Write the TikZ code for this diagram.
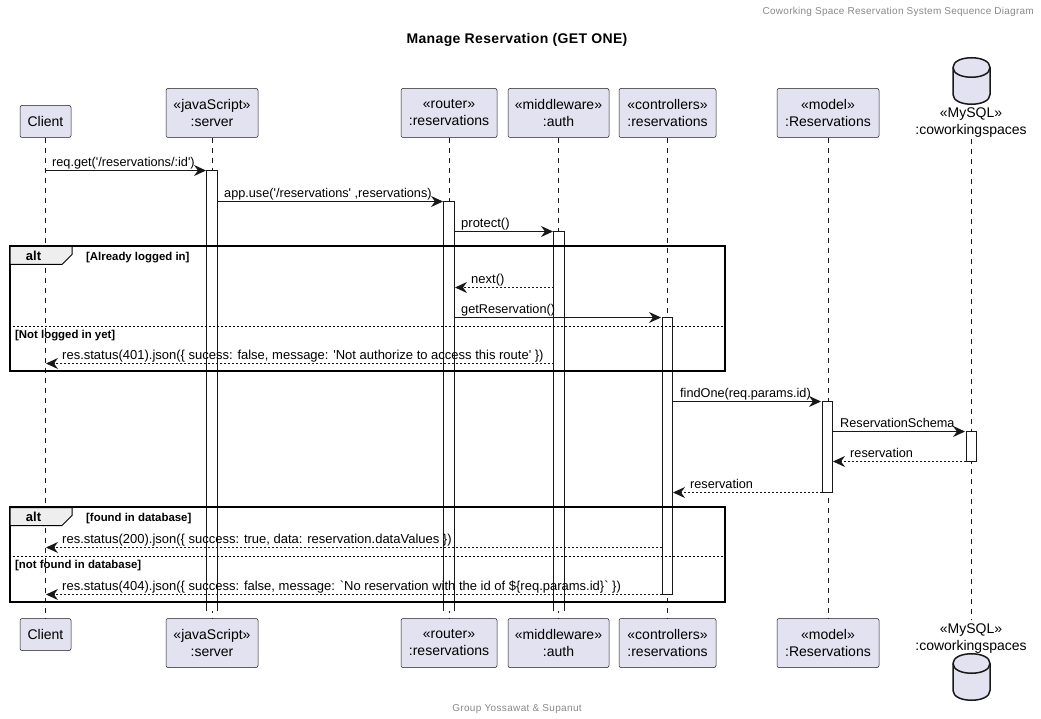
\documentclass[tikz,border=0pt]{standalone}
\usepackage{fontspec}
\setmainfont{Liberation Sans}
\newfontfamily\headerfont[LetterSpace=2.7]{Liberation Sans}
\newfontfamily\footerfont[LetterSpace=3.5]{Liberation Sans}
\newfontfamily\titlefont[LetterSpace=2.5]{Liberation Sans}
\newfontfamily\plainquotes{Liberation Sans}
\usetikzlibrary{arrows.meta}
\definecolor{partyfill}{HTML}{E2E2F0}
\definecolor{inkline}{HTML}{181818}
\definecolor{tabfill}{HTML}{EEEEEE}
\definecolor{notegray}{HTML}{888888}

\begin{document}
\begin{tikzpicture}[x=1pt, y=-1pt,
                    party/.style={draw=inkline, line width=0.5pt, fill=partyfill, rounded corners=2pt, align=center,
                                  inner sep=0, font=\fontsize{14}{17}\selectfont},
                    dblabel/.style={align=center, inner sep=0, font=\fontsize{14}{17}\selectfont},
                    life/.style={draw=inkline, line width=0.5pt, dash pattern=on 5pt off 5pt},
                    actbar/.style={fill=white, inner sep=0, minimum width=10},
                    barline/.style={draw=inkline, line width=1pt},
                    msg/.style={draw=inkline, line width=1pt, -{Stealth[length=12pt, width=11pt, inset=4pt]}},
                    reply/.style={msg, dash pattern=on 2pt off 2pt},
                    msgtext/.style={anchor=base west, inner sep=0, font=\fontsize{13}{15}\plainquotes},
                    msgshort/.style={anchor=base west, inner sep=0, font=\fontsize{12.7}{15}\plainquotes},
                    altframe/.style={draw=black, line width=2pt, inner sep=0, minimum width=715},
                    alttab/.style={draw=black, line width=1pt, fill=tabfill},
                    guard/.style={anchor=base west, inner sep=0, font=\fontsize{11.4}{13}\selectfont\bfseries},
                    divider/.style={draw=black, line width=0.8pt, dash pattern=on 2pt off 2pt},
                    cylinder part/.style={draw=inkline, line width=1.5pt, fill=partyfill}]
                \useasboundingbox (0,-0.5) rectangle (1041,718.5);

                \node (header) [anchor=base east, inner sep=0, text=notegray, font=\fontsize{10}{12}\headerfont] at (1034,14)
                    {Coworking Space Reservation System Sequence Diagram};
                \node (title) [anchor=base, inner sep=0, font=\fontsize{14}{17}\titlefont\bfseries] at (517,43) {Manage Reservation (GET ONE)};
                \node (footer) [anchor=base, inner sep=0, text=notegray, font=\fontsize{10}{12}\footerfont] at (517,711)
                    {Group Yossawat \& Supanut};

                \node (clienthead) [party, minimum width=51, minimum height=32] at (45.5,121) {Client};
                \node (serverhead) [party, minimum width=92, minimum height=49] at (212,112.5) {«javaScript»\\:server};
                \node (routerhead) [party, minimum width=96, minimum height=49] at (449,112.5) {«router»\\:reservations};
                \node (authhead) [party, minimum width=101, minimum height=49] at (558.5,112.5) {«middleware»\\:auth};
                \node (ctrlhead) [party, minimum width=97, minimum height=49] at (667.5,112.5) {«controllers»\\:reservations};
                \node (modelhead) [party, minimum width=102, minimum height=49] at (828,112.5) {«model»\\:Reservations};
                \node (dbhead) [dblabel, minimum height=32] at (971,122) {«MySQL»\\:coworkingspaces};

                \node (clientfoot) [party, minimum width=51, minimum height=32] at (45.5,634) {Client};
                \node (serverfoot) [party, minimum width=92, minimum height=49] at (212,642.5) {«javaScript»\\:server};
                \node (routerfoot) [party, minimum width=96, minimum height=49] at (449,642.5) {«router»\\:reservations};
                \node (authfoot) [party, minimum width=101, minimum height=49] at (558.5,642.5) {«middleware»\\:auth};
                \node (ctrlfoot) [party, minimum width=97, minimum height=49] at (667.5,642.5) {«controllers»\\:reservations};
                \node (modelfoot) [party, minimum width=102, minimum height=49] at (828,642.5) {«model»\\:Reservations};
                \node (dbfoot) [dblabel, minimum height=40] at (971,638.5) {«MySQL»\\:coworkingspaces};

                \draw [life] (clienthead) -- (clientfoot);
                \draw [life] (serverhead) -- (serverfoot);
                \draw [life] (routerhead) -- (routerfoot);
                \draw [life] (authhead) -- (authfoot);
                \draw [life] (ctrlhead) -- (ctrlfoot);
                \draw [life] (modelhead) -- (modelfoot);
                \draw [life] (dbhead) -- (dbfoot);

                \draw [cylinder part] (953,67) .. controls (953,54) and (990,54) .. (990,67) -- (990,94)
                    .. controls (990,107) and (953,107) .. (953,94) -- cycle;
                \draw [cylinder part, fill=none] (953,67) .. controls (953,80) and (990,80) .. (990,67);
                \draw [cylinder part] (953,663) .. controls (953,650) and (990,650) .. (990,663) -- (990,690)
                    .. controls (990,703) and (953,703) .. (953,690) -- cycle;
                \draw [cylinder part, fill=none] (953,663) .. controls (953,676) and (990,676) .. (990,663);

                \node (serverbar) [actbar, minimum height=440] at (212,390) {};
                \node (routerbar) [actbar, minimum height=409] at (449,405.5) {};
                \node (authbar) [actbar, minimum height=379] at (559,420.5) {};
                \node (ctrlbar) [actbar, minimum height=277, barline] at (667,455.5) {};
                \node (modelbar) [actbar, minimum height=91, barline] at (827,446.5) {};
                \node (dbbar) [actbar, minimum height=30, barline] at (971,446) {};
                \draw [barline] (serverbar.south west) -- (serverbar.north west) -- (serverbar.north east) -- (serverbar.south east);
                \draw [barline] (routerbar.south west) -- (routerbar.north west) -- (routerbar.north east) -- (routerbar.south east);
                \draw [barline] (authbar.south west) -- (authbar.north west) -- (authbar.north east) -- (authbar.south east);

                \node (alta) [altframe, minimum height=125] at (367.5,308) {};
                \draw [alttab] (10,246) -- (72,246) -- (72,254) -- (62,264) -- (10,264) -- cycle;
                \draw [divider] (alta.west |- 0,326) -- (alta.east |- 0,326);
                \node (alttext) [anchor=base, inner sep=0, font=\fontsize{13}{15}\selectfont\bfseries] at (33.5,260) {alt};
                \node (guardin) [guard] at (86,260) {[Already logged in]};
                \node (guardout) [guard] at (15,338) {[Not logged in yet]};

                \node (altb) [altframe, minimum height=95] at (367.5,554) {};
                \draw [alttab] (10,507) -- (72,507) -- (72,515) -- (62,525) -- (10,525) -- cycle;
                \draw [divider] (altb.west |- 0,556) -- (altb.east |- 0,556);
                \node (alttextb) [anchor=base, inner sep=0, font=\fontsize{13}{15}\selectfont\bfseries] at (33.5,521) {alt};
                \node (guardfound) [guard] at (86,521) {[found in database]};
                \node (guardnot) [guard] at (15,568) {[not found in database]};

                \coordinate (get) at (45,170);
                \coordinate (getend) at (206,170);
                \coordinate (use) at (217,201);
                \coordinate (useend) at (443,201);
                \coordinate (protect) at (454,231);
                \coordinate (protectend) at (553,231);
                \coordinate (next) at (554,287);
                \coordinate (nextend) at (455,287);
                \coordinate (getres) at (454,317);
                \coordinate (getresend) at (661,317);
                \coordinate (denied) at (554,363);
                \coordinate (deniedend) at (46,363);
                \coordinate (find) at (672,401);
                \coordinate (findend) at (821,401);
                \coordinate (schema) at (832,431);
                \coordinate (schemaend) at (965,431);
                \coordinate (rowback) at (966,461);
                \coordinate (rowbackend) at (833,461);
                \coordinate (rowup) at (822,492);
                \coordinate (rowupend) at (673,492);
                \coordinate (found) at (662,547);
                \coordinate (foundend) at (46,547);
                \coordinate (missing) at (662,594);
                \coordinate (missingend) at (46,594);

                \draw [msg] (get) -- (getend);
                \draw [msg] (use) -- (useend);
                \draw [msg] (protect) -- (protectend);
                \draw [reply] (next) -- (nextend);
                \draw [msg] (getres) -- (getresend);
                \draw [reply] (denied) -- (deniedend);
                \draw [msg] (find) -- (findend);
                \draw [msg] (schema) -- (schemaend);
                \draw [reply] (rowback) -- (rowbackend);
                \draw [reply] (rowup) -- (rowupend);
                \draw [reply] (found) -- (foundend);
                \draw [reply] (missing) -- (missingend);

                \node (gettext) [msgshort] at (52,166) {req.get('/reservations/:id')};
                \node (usetext) [msgshort] at (224,197) {app.use('/reservations' ,reservations)};
                \node (protecttext) [msgtext] at (461,227) {protect()};
                \node (nexttext) [msgtext] at (471,283) {next()};
                \node (getrestext) [msgshort] at (461,313) {getReservation()};
                \node (deniedtext) [msgtext] at (62,359) {res.status(401).json(\{ sucess: false, message: 'Not authorize to access this route' \})};
                \node (findtext) [msgshort] at (680,397) {findOne(req.params.id)};
                \node (schematext) [msgshort] at (840,427) {ReservationSchema};
                \node (rowbacktext) [msgshort] at (850,457) {reservation};
                \node (rowuptext) [msgshort] at (690,488) {reservation};
                \node (foundtext) [msgtext] at (62,543) {res.status(200).json(\{ success: true, data: reservation.dataValues \})};
                \node (missingtext) [msgtext] at (62,590) {res.status(404).json(\{ success: false, message: `No reservation with the id of \$\{req.params.id\}` \})};
            \end{tikzpicture}
\end{document}
